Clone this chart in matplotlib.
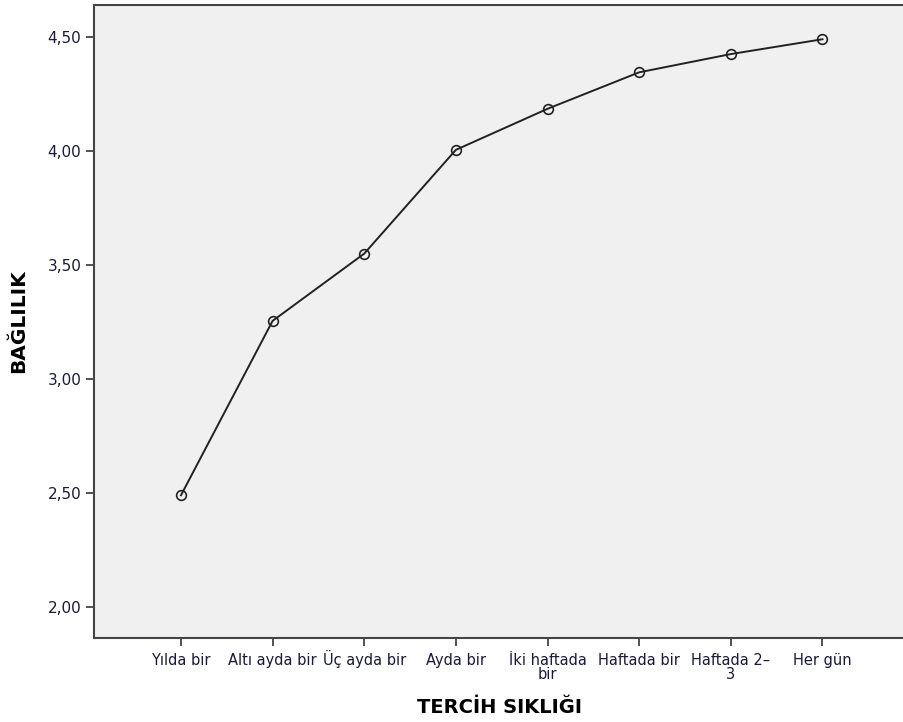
import matplotlib
matplotlib.use('Agg')
import matplotlib.pyplot as plt

categories = ['Yılda bir', 'Altı ayda bir', 'Üç ayda bir', 'Ayda bir',
              'İki haftada\nbir', 'Haftada bir', 'Haftada 2–\n3', 'Her gün']
values = [2.49, 3.255, 3.55, 4.005, 4.185, 4.345, 4.425, 4.49]
yticks = [2.0, 2.5, 3.0, 3.5, 4.0, 4.5]
ytick_labels = ['2,00', '2,50', '3,00', '3,50', '4,00', '4,50']

plt.rcParams['font.family'] = ['DejaVu Sans']

fig = plt.figure(figsize=(9.04, 7.22), dpi=100)
ax = fig.add_axes([0.1045, 0.1163, 0.8955, 0.8767])
ax.set_facecolor('#f0f0f0')

x = list(range(len(categories)))
ax.plot(x, values, color='#222222', linewidth=1.4, marker='o', markersize=7,
        markerfacecolor='none', markeredgecolor='#222222', markeredgewidth=1.2)

ax.set_xlim(-0.944, 7.89)
ax.set_ylim(1.864, 4.64)
ax.set_xticks(x)
ax.tick_params(axis='x', labelbottom=False)
# category labels drawn on a common baseline (accents would shift them otherwise)
for i, label in enumerate(categories):
    for j, line in enumerate(label.split('\n')):
        ax.annotate(line, xy=(i, 0), xycoords=('data', 'axes fraction'),
                    xytext=(0, -19.5 - j * 10), textcoords='offset points',
                    ha='center', va='baseline', fontsize=10.5, color='#1a1a3a',
                    annotation_clip=False)

ax.set_yticks(yticks)
ax.set_yticklabels(ytick_labels, fontsize=11, color='#1a1a3a')
ax.tick_params(axis='both', direction='out', length=6, width=1.3, color='#444444')

for side in ['left', 'bottom', 'top']:
    ax.spines[side].set_color('#444444')
    ax.spines[side].set_linewidth(1.5)
ax.spines['right'].set_visible(False)

ax.set_xlabel('TERCİH SIKLIĞI', fontsize=14, fontweight='bold', labelpad=37)
ax.set_ylabel('BAĞLILIK', fontsize=14.5, fontweight='bold', labelpad=14)

fig.savefig('out.png', dpi=100)
